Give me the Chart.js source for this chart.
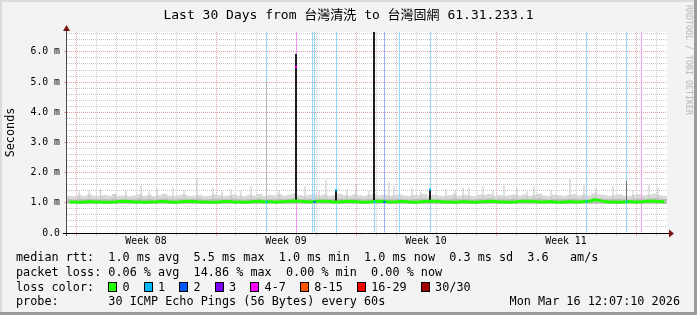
<!DOCTYPE html>
<html>
<head>
<meta charset="utf-8">
<script src="https://cdn.jsdelivr.net/npm/chart.js@4/dist/chart.umd.min.js"></script>
<style>
  body { margin: 0; background: #f3f3f3; }
  #wrap { position: relative; width: 697px; height: 315px; overflow: hidden; }
  #chart { position: absolute; left: 0; top: 0; }
  .mono { font-family: 'DejaVu Sans Mono', 'Noto Sans CJK TC', monospace; color: #000; position: absolute; white-space: pre; }
  #title { left: 0; width: 697px; top: 7px; font-size: 13px; line-height: 16px; text-align: center; }
  #legend { left: 16px; top: 250px; font-size: 11.8px; line-height: 14.8px; }
  #stamp { right: 17px; top: 294.4px; font-size: 11.8px; line-height: 14.8px; }
  #rrd { left: 688.5px; top: 60px; font-size: 8.3px; line-height: 1; color: #b4b4b4;
         transform: translate(-50%, -50%) rotate(90deg); }
  .box { display: inline-block; width: 2ch; }
  .box i { display: inline-block; width: 7px; height: 8px; border: 1px solid #000; vertical-align: -1px; }
</style>
</head>
<body>
<div id="wrap">
  <canvas id="chart" width="697" height="315"></canvas>
  <div id="title" class="mono"></div>
  <div id="legend" class="mono"></div>
  <div id="stamp" class="mono"></div>
  <div id="rrd" class="mono">RRDTOOL / TOBI OETIKER</div>
</div>
<script>
// Texto del gráfico
const titleText = 'Last 30 Days from 台灣清洗 to 台灣固網 61.31.233.1';
const yTickLabels = ['0.0', '1.0 m', '2.0 m', '3.0 m', '4.0 m', '5.0 m', '6.0 m'];
const weekLabels = ['Week 08', 'Week 09', 'Week 10', 'Week 11'];
const weekLabelDays = [3.95, 10.95, 17.95, 24.95];
const weekStartDays = [0.45, 7.45, 14.45, 21.45, 28.45];
const rttStats = 'median rtt:  1.0 ms avg  5.5 ms max  1.0 ms min  1.0 ms now  0.3 ms sd  3.6   am/s';
const lossStats = 'packet loss: 0.06 % avg  14.86 % max  0.00 % min  0.00 % now';
const probeText = 'probe:       30 ICMP Echo Pings (56 Bytes) every 60s';
const stampText = 'Mon Mar 16 12:07:10 2026';

// Colores de pérdida
const lossLabels = ['0', '1', '2', '3', '4-7', '8-15', '16-29', '30/30'];
const lossColors = ['#26ff00', '#00b8ff', '#0059ff', '#7e00ff', '#ff00ff', '#ff5500', '#ff0000', '#a10000'];
const lossTints = ['#c8ffc0', '#96d8f8', '#98aeff', '#c09aff', '#ee98ee', '#ffbc98', '#ff9a9a', '#d49a9a'];

// Mediana cada 6 horas (ms)
const median = [
  1.03,1.03,1.02,1.03,1.04,1.03,1.03,1.02,1.02,1.03,1.04,1.05,1.04,1.03,1.03,1.02,1.03,1.03,1.04,1.04,
  1.03,1.02,1.03,1.04,1.05,1.04,1.03,1.03,1.02,1.02,1.03,1.04,1.04,1.03,1.03,1.02,1.03,1.04,1.05,1.03,
  1.04,1.03,1.03,1.04,1.05,1.06,1.05,1.04,1.03,1.04,1.05,1.05,1.04,1.03,1.03,1.04,1.05,1.04,1.03,1.02,
  1.03,1.04,1.05,1.04,1.03,1.03,1.04,1.04,1.03,1.02,1.03,1.04,1.05,1.05,1.04,1.03,1.03,1.02,1.03,1.04,
  1.03,1.02,1.03,1.04,1.05,1.04,1.03,1.03,1.02,1.03,1.04,1.05,1.05,1.04,1.03,1.03,1.04,1.03,1.02,1.03,
  1.04,1.03,1.03,1.04,1.05,1.10,1.08,1.04,1.03,1.03,1.02,1.03,1.04,1.03,1.03,1.04,1.06,1.05,1.04,1.03
];
// Humo: borde interior y exterior
const smokeMid = [
  1.11,1.10,1.12,1.11,1.12,1.11,1.10,1.12,1.11,1.13,1.11,1.12,1.10,1.11,1.13,1.11,1.12,1.10,1.12,1.13,
  1.11,1.10,1.12,1.12,1.11,1.12,1.13,1.10,1.11,1.12,1.12,1.11,1.12,1.13,1.11,1.10,1.12,1.11,1.13,1.11,
  1.12,1.11,1.13,1.11,1.12,1.14,1.12,1.11,1.12,1.13,1.11,1.12,1.11,1.12,1.13,1.12,1.11,1.13,1.12,1.10,
  1.12,1.13,1.11,1.12,1.11,1.12,1.13,1.11,1.10,1.12,1.12,1.13,1.11,1.12,1.11,1.10,1.12,1.13,1.11,1.12,
  1.11,1.10,1.12,1.12,1.13,1.11,1.12,1.10,1.11,1.13,1.11,1.12,1.11,1.12,1.14,1.11,1.10,1.12,1.12,1.11,
  1.12,1.13,1.11,1.12,1.12,1.15,1.14,1.12,1.11,1.12,1.13,1.11,1.10,1.12,1.13,1.12,1.12,1.14,1.12,1.11
];
const smokeHi = [
  1.22,1.20,1.24,1.21,1.26,1.23,1.20,1.25,1.22,1.28,1.21,1.24,1.20,1.23,1.27,1.22,1.25,1.21,1.24,1.29,
  1.22,1.20,1.24,1.26,1.21,1.23,1.25,1.20,1.22,1.27,1.24,1.21,1.23,1.26,1.22,1.20,1.25,1.23,1.28,1.22,
  1.25,1.23,1.27,1.22,1.26,1.30,1.24,1.21,1.25,1.28,1.23,1.26,1.22,1.24,1.29,1.25,1.22,1.27,1.24,1.21,
  1.25,1.28,1.23,1.26,1.22,1.24,1.27,1.23,1.21,1.25,1.24,1.28,1.22,1.26,1.23,1.21,1.24,1.27,1.22,1.25,
  1.23,1.21,1.26,1.24,1.28,1.22,1.25,1.21,1.24,1.27,1.23,1.26,1.22,1.25,1.29,1.23,1.21,1.26,1.24,1.22,
  1.25,1.28,1.23,1.26,1.24,1.30,1.27,1.25,1.22,1.24,1.27,1.23,1.21,1.25,1.28,1.24,1.26,1.29,1.24,1.22
];
const SMOKE_FLOOR = 0.98;

// Picos finos de humo (día, tope en ms)
const thinSpikeDays = [0.6, 1.1, 1.67, 2.4, 2.95, 3.7, 4.1, 4.5, 5.3, 5.85, 6.5, 7.3, 7.75, 8.2, 8.7, 9.2,
  10.6, 11.9, 12.6, 12.95, 14.0, 14.45, 15.1, 16.1, 16.35, 17.25, 17.7, 18.95, 19.4, 19.8,
  20.1, 20.8, 21.3, 21.85, 22.5, 23.0, 23.35, 24.2, 25.15, 25.85, 26.45, 27.3, 28.3, 29.1, 29.55];
const thinSpikeTops = [1.38, 1.42, 1.46, 1.30, 1.40, 1.59, 1.38, 1.49, 1.52, 1.40, 1.79, 1.50, 1.38, 1.45, 1.40, 1.55,
  1.42, 1.55, 1.40, 1.76, 1.45, 1.60, 1.40, 1.70, 1.55, 1.50, 1.38, 1.45, 1.40, 1.50,
  1.50, 1.55, 1.40, 1.60, 1.50, 1.38, 1.55, 1.42, 1.80, 1.60, 1.50, 1.55, 1.42, 1.60, 1.50];
const greySpikeDays = [9.975, 27.975];
const greySpikeTops = [5.0, 1.72];
const darkSpikeDays = [11.45, 13.45, 15.35, 18.15];
const darkSpikeTops = [5.93, 1.40, 6.66, 1.42];

// Eventos de pérdida (día, paquetes perdidos)
const lossDays = [9.975, 11.475, 12.275, 12.375, 13.475, 15.375, 15.875, 16.625, 18.175, 25.975, 27.975, 28.725];
const lossCount = [1, 5, 1, 1, 1, 1, 2, 1, 1, 1, 1, 5];
const lossMarkDays = [9.975, 11.45, 12.375, 13.45, 15.375, 15.875, 18.15, 25.975, 27.975];
const lossMarkRtt = [1.03, 5.5, 1.03, 1.42, 1.03, 1.03, 1.44, 1.04, 1.04];
const lossMarkCount = [1, 5, 2, 1, 1, 2, 1, 1, 1];

const Y_MAX = 6.66;
const MONO = "'DejaVu Sans Mono', 'Noto Sans CJK TC', monospace";
const RED = '#e4a0a0';
const GRAY = '#c8c8c8';

function band(n) {
    if (n <= 3) return n;
    if (n <= 7) return 4;
    if (n <= 15) return 5;
    if (n <= 29) return 6;
    return 7;
}

// Textos
document.getElementById('title').textContent = titleText;
document.getElementById('stamp').textContent = stampText;
let boxes = '';
lossLabels.forEach(function(l, i) {
    boxes += '<span class="box"><i style="background:' + lossColors[i] + '"></i></span>' + l + '  ';
});
document.getElementById('legend').innerHTML =
    rttStats + '\n' + lossStats + '\n' + 'loss color:  ' + boxes + '\n' + probeText;

const sampleDays = median.map((_, i) => i * 0.25 + 0.125);

const bgPlugin = {
    id: 'bg',
    beforeDraw(chart) {
        const ctx = chart.ctx;
        const a = chart.chartArea;
        ctx.save();
        ctx.fillStyle = '#f3f3f3';
        ctx.fillRect(0, 0, 697, 315);
        ctx.fillStyle = '#dcdcdc';
        ctx.fillRect(0, 0, 697, 2);
        ctx.fillRect(0, 0, 2, 315);
        ctx.fillStyle = '#9c9c9c';
        ctx.fillRect(694, 0, 3, 315);
        ctx.fillRect(0, 312, 697, 3);
        ctx.fillStyle = '#ffffff';
        ctx.fillRect(a.left, a.top, a.right - a.left, a.bottom - a.top);
        ctx.restore();
    },
    afterDatasetsDraw(chart) {
        const ctx = chart.ctx;
        const a = chart.chartArea;
        ctx.save();
        ctx.lineWidth = 1;
        ctx.strokeStyle = '#4a4a4a';
        ctx.beginPath();
        ctx.moveTo(a.left - 0.5, a.bottom + 3);
        ctx.lineTo(a.left - 0.5, a.top - 4);
        ctx.stroke();
        ctx.strokeStyle = '#000';
        ctx.beginPath();
        ctx.moveTo(a.left - 4, a.bottom + 0.5);
        ctx.lineTo(a.right + 3, a.bottom + 0.5);
        ctx.stroke();
        ctx.fillStyle = '#7d1414';
        ctx.beginPath();
        ctx.moveTo(a.left - 4, a.top - 1);
        ctx.lineTo(a.left + 3, a.top - 1);
        ctx.lineTo(a.left - 0.5, a.top - 7);
        ctx.fill();
        ctx.beginPath();
        ctx.moveTo(a.right + 2, a.bottom - 3.5);
        ctx.lineTo(a.right + 2, a.bottom + 4.5);
        ctx.lineTo(a.right + 7, a.bottom + 0.5);
        ctx.fill();
        ctx.restore();
    }
};

const barBase = { type: 'bar', grouped: false, borderWidth: 0, inflateAmount: 0 };

new Chart(document.getElementById('chart'), {
    type: 'line',
    data: {
        datasets: [
            {
                ...barBase,
                label: 'smoke',
                data: sampleDays.map((d, i) => ({ x: d, y: [SMOKE_FLOOR, smokeHi[i]] })),
                backgroundColor: '#d8d8d8',
                barThickness: 5,
                inflateAmount: 0.33,
                order: 7
            },
            {
                ...barBase,
                label: 'smoke inner',
                data: sampleDays.map((d, i) => ({ x: d, y: [SMOKE_FLOOR, smokeMid[i]] })),
                backgroundColor: '#bdbdbd',
                barThickness: 5,
                inflateAmount: 0.33,
                order: 6
            },
            {
                ...barBase,
                label: 'loss',
                data: lossDays.map(d => ({ x: d, y: [0, Y_MAX] })),
                backgroundColor: lossCount.map(n => lossTints[band(n)]),
                barThickness: 1,
                order: 5
            },
            {
                ...barBase,
                label: 'spikes',
                data: thinSpikeDays.map((d, i) => ({ x: d, y: [1.1, thinSpikeTops[i]] })),
                backgroundColor: '#c4c4c4',
                barThickness: 1,
                order: 4
            },
            {
                ...barBase,
                label: 'grey spikes',
                data: greySpikeDays.map((d, i) => ({ x: d, y: [1.0, greySpikeTops[i]] })),
                backgroundColor: ['#bcbcbc', '#707070'],
                barThickness: 1,
                order: 4
            },
            {
                ...barBase,
                label: 'dark spikes',
                data: darkSpikeDays.map((d, i) => ({ x: d, y: [1.0, darkSpikeTops[i]] })),
                backgroundColor: '#1e1e1e',
                barThickness: 2,
                order: 3
            },
            {
                label: 'median',
                data: sampleDays.map((d, i) => ({ x: d, y: median[i] })),
                borderColor: '#22ff00',
                borderWidth: 3,
                pointRadius: 0,
                tension: 0,
                order: 2
            },
            {
                label: 'loss median',
                data: lossMarkDays.map((d, i) => ({ x: d, y: lossMarkRtt[i] })),
                showLine: false,
                pointStyle: 'rect',
                pointRadius: 1.5,
                pointBorderWidth: 0,
                pointBackgroundColor: lossMarkCount.map(n => lossColors[band(n)]),
                order: 1
            }
        ]
    },
    options: {
        responsive: false,
        devicePixelRatio: 1,
        animation: false,
        layout: { padding: { left: 0, right: 30, top: 32, bottom: 0 } },
        plugins: {
            legend: { display: false },
            tooltip: { enabled: false }
        },
        scales: {
            x: {
                type: 'linear',
                min: 0,
                max: 30,
                offset: false,
                afterBuildTicks: function(s) {
                    const t = [];
                    for (let k = 0; k < 30; k++) t.push({ value: 0.45 + k });
                    weekLabelDays.forEach(v => t.push({ value: v }));
                    t.sort((a, b) => a.value - b.value);
                    s.ticks = t;
                },
                afterFit: function(s) { s.height = 82; },
                ticks: {
                    autoSkip: false,
                    maxRotation: 0,
                    minRotation: 0,
                    padding: 0,
                    color: '#000',
                    font: { family: MONO, size: 9.8 },
                    callback: function(v) {
                        const i = weekLabelDays.findIndex(w => Math.abs(w - v) < 0.01);
                        return i >= 0 ? weekLabels[i] : '';
                    }
                },
                grid: {
                    offset: false,
                    lineWidth: 1,
                    tickLength: 3,
                    color: function(c) {
                        const v = c.tick ? c.tick.value : 0;
                        if (weekLabelDays.some(w => Math.abs(w - v) < 0.01)) return 'rgba(0,0,0,0)';
                        return weekStartDays.some(w => Math.abs(w - v) < 0.01) ? RED : GRAY;
                    }
                },
                border: { display: false, dash: [1, 1] }
            },
            y: {
                type: 'linear',
                min: 0,
                max: Y_MAX,
                afterBuildTicks: function(s) {
                    const t = [];
                    for (let k = 0; k <= 33; k++) t.push({ value: k / 5 });
                    s.ticks = t;
                },
                afterFit: function(s) { s.width = 67; },
                ticks: {
                    autoSkip: false,
                    padding: 4,
                    color: '#000',
                    font: { family: MONO, size: 9.8 },
                    callback: function(v) {
                        const k = Math.round(v * 5);
                        return k % 5 === 0 ? yTickLabels[k / 5] : '';
                    }
                },
                grid: {
                    lineWidth: 1,
                    tickLength: 3,
                    color: function(c) {
                        const v = c.tick ? c.tick.value : 0;
                        return Math.round(v * 5) % 5 === 0 ? RED : GRAY;
                    },
                    tickColor: function(c) {
                        const v = c.tick ? c.tick.value : 0;
                        return Math.round(v * 5) % 5 === 0 ? RED : 'rgba(0,0,0,0)';
                    }
                },
                border: { display: false, dash: [1, 1] },
                title: {
                    display: true,
                    text: 'Seconds',
                    color: '#000',
                    font: { family: MONO, size: 11.8 },
                    padding: { top: 4, bottom: 0 }
                }
            }
        }
    },
    plugins: [bgPlugin]
});
</script>
</body>
</html>
